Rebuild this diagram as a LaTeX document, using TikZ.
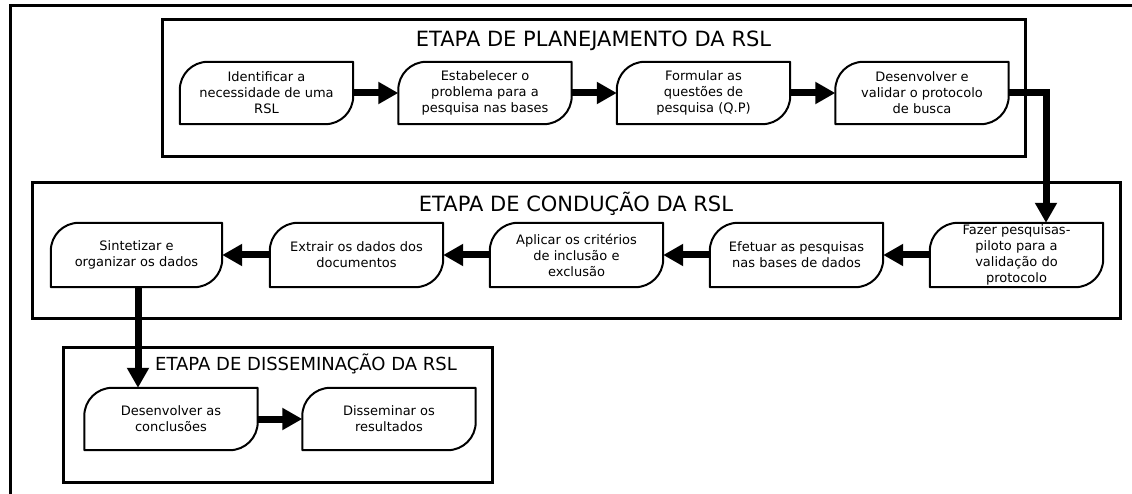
\documentclass[tikz,border=0pt]{standalone}
\usepackage{fontspec}
\setmainfont{DejaVu Sans}
\usetikzlibrary{arrows.meta}
\tikzset{
  stepbox/.style={minimum width=173pt, minimum height=62pt, inner sep=0pt, align=center,
    font=\fontsize{13pt}{16pt}\selectfont},
  stepline/.style={line width=2pt, line join=round},
  stagebox/.style={line width=3pt},
  stagetitle/.style={anchor=base, inner sep=0pt},
  flow/.style={line width=7pt, -{Triangle[length=20pt,width=21pt]}},
}
\newcommand{\stepshape}[1]{%
  \draw[stepline] (#1.south west) -- ([yshift=-28pt]#1.north west)
    arc[start angle=180,end angle=90,radius=28pt] -- (#1.north east)
    -- ([yshift=28pt]#1.south east)
    arc[start angle=0,end angle=-90,radius=28pt] -- cycle;}
\begin{document}
\begin{tikzpicture}[x=1pt,y=1pt]
\useasboundingbox (0,0) rectangle (1132,-494);
% outer frame
\draw[line width=3pt] (10,-494) -- (10,-6) -- (1132,-6);
% stage boxes
\draw[stagebox] (162,-20) rectangle (1025,-157);
\draw[stagebox] (32,-183) rectangle (1120,-318);
\draw[stagebox] (63,-347) rectangle (492,-482);
\node[stagetitle, font=\fontsize{21pt}{24pt}\selectfont] (t1) at (593.5,-46.5) {ETAPA DE PLANEJAMENTO DA RSL};
\node[stagetitle, font=\fontsize{21pt}{24pt}\selectfont] (t2) at (576,-212) {ETAPA DE CONDUÇÃO DA RSL};
\node[stagetitle, font=\fontsize{18pt}{21pt}\selectfont] (t3) at (306,-370.5) {ETAPA DE DISSEMINAÇÃO DA RSL};
% planning
\node[stepbox] (p1) at (266.5,-93) {Identificar a\\necessidade de uma\\RSL};
\node[stepbox] (p2) at (485,-93) {Estabelecer o\\problema para a\\pesquisa nas bases};
\node[stepbox] (p3) at (703.5,-93) {Formular as\\questões de\\pesquisa (Q.P)};
\node[stepbox] (p4) at (922,-93) {Desenvolver e\\validar o protocolo\\de busca};
% conduction
\node[stepbox, minimum height=64pt] (c5) at (1016.5,-255) {Fazer pesquisas-\\piloto para a\\validação do\\protocolo};
\node[stepbox, minimum height=64pt] (c4) at (796.5,-255) {Efetuar as pesquisas\\nas bases de dados};
\node[stepbox, minimum height=64pt] (c3) at (576.5,-255) {Aplicar os critérios\\de inclusão e\\exclusão};
\node[stepbox, minimum height=64pt] (c2) at (356.5,-255) {Extrair os dados dos\\documentos};
\node[stepbox, minimum height=64pt, minimum width=171pt] (c1) at (136.5,-255) {Sintetizar e\\organizar os dados};
% dissemination
\node[stepbox] (d1) at (171,-419) {Desenvolver as\\conclusões};
\node[stepbox] (d2) at (389,-419) {Disseminar os\\resultados};
\foreach \n in {p1,p2,p3,p4,c1,c2,c3,c4,c5,d1,d2} {\stepshape{\n}}
% connectors
\draw[flow] (p1) -- (p2);
\draw[flow] (p2) -- (p3);
\draw[flow] (p3) -- (p4);
\coordinate (turn) at (1046,-93);
\draw[flow] (p4.east) -- (turn) -- (turn |- c5.north);
\draw[flow] (c5) -- (c4);
\draw[flow] (c4) -- (c3);
\draw[flow] (c3) -- (c2);
\draw[flow] (c2) -- (c1);
\coordinate (down) at (138,-287);
\draw[flow] (down) -- (down |- d1.north);
\draw[flow] (d1) -- (d2);
\end{tikzpicture}
\end{document}
